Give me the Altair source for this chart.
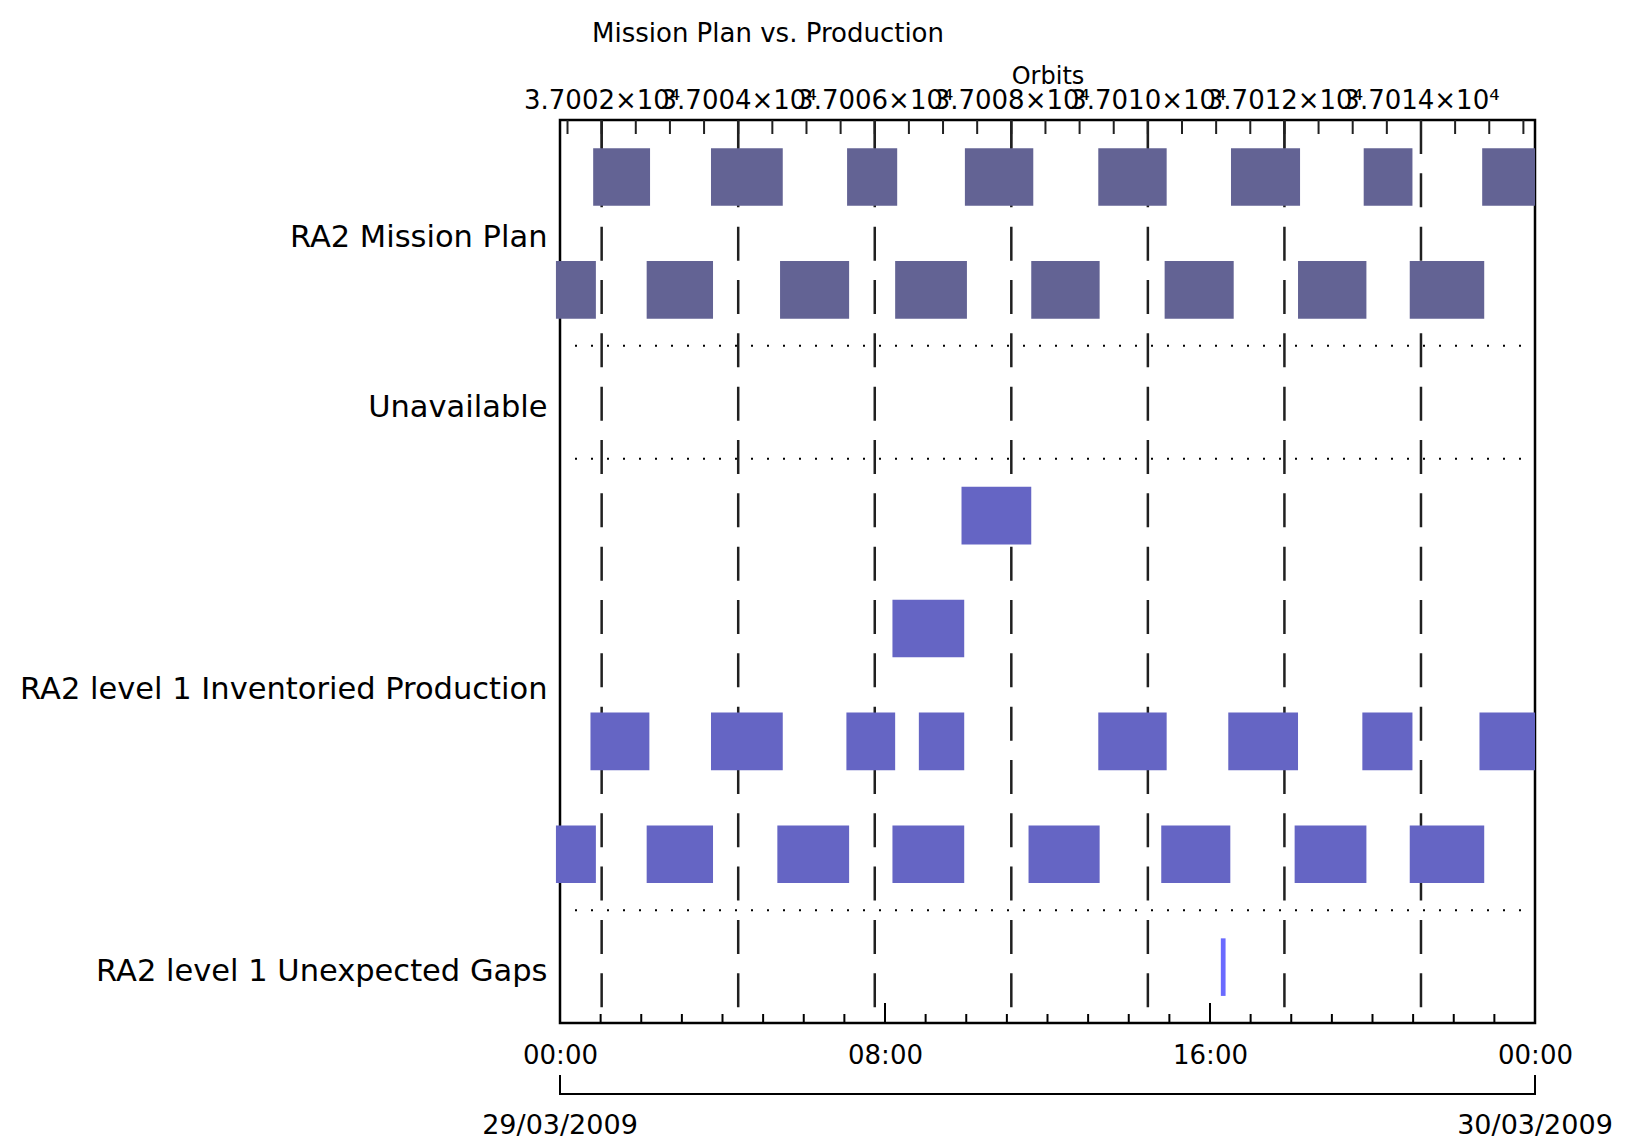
import altair as alt
import pandas as pd

FONT = "DejaVu Sans"
TITLE = "Mission Plan vs. Production"
ORBIT_TITLE = "Orbits"

# Row labels and the slots (sub-rows) each group occupies, top to bottom
ROW_LABELS = ["RA2 Mission Plan", "Unavailable",
              "RA2 level 1 Inventoried Production", "RA2 level 1 Unexpected Gaps"]
ROW_SLOTS = [[0, 1], [2], [3, 4, 5, 6], [7]]
N_SLOTS = 8

# Time axis (hours of 29/03/2009)
TIME_LABEL_HOURS = [0, 8, 16, 24]
DATE_HOURS = [0, 24]
DATE_LABELS = ["29/03/2009", "30/03/2009"]

# Orbit axis
ORBIT_AT_START = 37001.39
ORBIT_AT_END = 37015.67
MAJOR_ORBITS = [37002, 37004, 37006, 37008, 37010, 37012, 37014]

# Mission plan (two sub-rows)
MP_ROW1_START = ["00:49", "03:43", "07:04", "09:58", "13:15", "16:31", "19:47", "22:42"]
MP_ROW1_END   = ["02:13", "05:29", "08:18", "11:39", "14:56", "18:13", "20:59", "24:00"]
MP_ROW2_START = ["-00:06", "02:08", "05:25", "08:15", "11:36", "14:53", "18:10", "20:55"]
MP_ROW2_END   = ["00:53", "03:46", "07:07", "10:01", "13:17", "16:35", "19:51", "22:45"]

# Inventoried production (four sub-rows)
INV_ROW1_START = ["09:53"]
INV_ROW1_END   = ["11:36"]
INV_ROW2_START = ["08:11"]
INV_ROW2_END   = ["09:57"]
INV_ROW3_START = ["00:45", "03:43", "07:03", "08:50", "13:15", "16:27", "19:45", "22:38"]
INV_ROW3_END   = ["02:12", "05:29", "08:15", "09:57", "14:56", "18:10", "20:59", "24:00"]
INV_ROW4_START = ["-00:06", "02:08", "05:21", "08:11", "11:32", "14:48", "18:05", "20:55"]
INV_ROW4_END   = ["00:53", "03:46", "07:07", "09:57", "13:17", "16:30", "19:51", "22:45"]

# Unexpected gaps
GAP_START = ["16:16"]
GAP_END   = ["16:23"]

SERIES = ["plan", "inventoried", "gaps"]
COLORS = ["#636394", "#6565c4", "#6a6aff"]

W, H = 975, 903


def hours(s):
    neg = s.startswith("-")
    hh, mm = s.lstrip("-").split(":")
    v = int(hh) + int(mm) / 60.0
    return -v if neg else v


rows = [
    (MP_ROW1_START, MP_ROW1_END, 0, "plan"),
    (MP_ROW2_START, MP_ROW2_END, 1, "plan"),
    (INV_ROW1_START, INV_ROW1_END, 3, "inventoried"),
    (INV_ROW2_START, INV_ROW2_END, 4, "inventoried"),
    (INV_ROW3_START, INV_ROW3_END, 5, "inventoried"),
    (INV_ROW4_START, INV_ROW4_END, 6, "inventoried"),
    (GAP_START, GAP_END, 7, "gaps"),
]
recs = []
for starts, ends, slot, series in rows:
    for s, e in zip(starts, ends):
        recs.append({"start": hours(s), "end": hours(e), "slot": slot, "series": series})
bars_df = pd.DataFrame(recs)
bars_df["y0"] = bars_df["slot"] + 0.25
bars_df["y1"] = bars_df["slot"] + 0.76

label_pos = [sum(s) / len(s) + 0.5 for s in ROW_SLOTS]
label_expr = " : ".join(
    f"datum.value == {p} ? '{t}'" for p, t in zip(label_pos, ROW_LABELS)
) + " : ''"

sep_df = pd.DataFrame({"slot": [ROW_SLOTS[0][-1] + 1, ROW_SLOTS[1][-1] + 1, ROW_SLOTS[2][-1] + 1]})

hour_ticks = pd.DataFrame({"h": list(range(0, 25))})
hour_major = pd.DataFrame({"h": TIME_LABEL_HOURS})
orbit_major = pd.DataFrame({"orbit": MAJOR_ORBITS})
orbit_minor = pd.DataFrame({"orbit": [37001.5 + 0.5 * k for k in range(29)]})
date_df = pd.DataFrame({"h": DATE_HOURS, "label": DATE_LABELS})
bracket_df = pd.DataFrame({"a": [0], "b": [24]})

xs = alt.Scale(domain=[0, 24], nice=False, zero=False)
ys = alt.Scale(domain=[0, N_SLOTS], nice=False, zero=False, reverse=True)
os_ = alt.Scale(domain=[ORBIT_AT_START, ORBIT_AT_END], nice=False, zero=False)

# ---------- orbit-based layers ----------
top_axis = alt.Axis(
    orient="top", values=MAJOR_ORBITS,
    labelExpr="format(datum.value / 10000, '.4f') + '×10⁴'",
    title=ORBIT_TITLE, titleFont=FONT, titleFontSize=24, titleFontWeight="normal",
    titleColor="black", titlePadding=-1,
    labelFont=FONT, labelFontSize=26, labelColor="black", labelPadding=7,
    labelOverlap=False, labelFlush=False, labelLimit=0,
    ticks=False, domain=False, grid=False,
)
dashed = alt.Chart(orbit_major).mark_rule(
    strokeDash=[34, 19.33], strokeWidth=2.5, color="#202020"
).encode(
    x=alt.X("orbit:Q", scale=os_, axis=top_axis),
    y=alt.value(0), y2=alt.value(H),
)
top_minor = alt.Chart(orbit_minor).mark_rule(strokeWidth=2, color="#202020").encode(
    x=alt.X("orbit:Q", scale=os_, axis=None), y=alt.value(0), y2=alt.value(14),
)
top_major = alt.Chart(orbit_major).mark_rule(strokeWidth=2, color="#202020").encode(
    x=alt.X("orbit:Q", scale=os_, axis=None), y=alt.value(0), y2=alt.value(28),
)

# ---------- time-based layers ----------
bottom_axis = alt.Axis(
    orient="bottom", values=TIME_LABEL_HOURS,
    labelExpr="format(datum.value % 24, '02d') + ':00'",
    title=None, labelFont=FONT, labelFontSize=26, labelColor="black", labelPadding=19,
    labelOverlap=False, labelFlush=False, ticks=False, domain=False, grid=False,
)
left_axis = alt.Axis(
    orient="left", values=label_pos, labelExpr=label_expr, title=None,
    labelFont=FONT, labelFontSize=30.5, labelColor="black", labelPadding=13,
    labelOffset=5, labelOverlap=False, labelFlush=False, labelLimit=0,
    ticks=False, domain=False, grid=False,
)
bars = alt.Chart(bars_df).mark_rect().encode(
    x=alt.X("start:Q", scale=xs, axis=bottom_axis),
    x2="end:Q",
    y=alt.Y("y0:Q", scale=ys, axis=left_axis),
    y2="y1:Q",
    color=alt.Color("series:N", scale=alt.Scale(domain=SERIES, range=COLORS), legend=None),
)
seps = alt.Chart(sep_df).mark_rule(strokeDash=[2, 14], strokeWidth=2, color="black").encode(
    y=alt.Y("slot:Q", scale=ys, axis=None), x=alt.value(15), x2=alt.value(962),
)
bot_minor = alt.Chart(hour_ticks).mark_rule(strokeWidth=2, color="black").encode(
    x=alt.X("h:Q", scale=xs, axis=None), y=alt.value(H), y2=alt.value(H - 9),
)
bot_major = alt.Chart(hour_major).mark_rule(strokeWidth=2, color="black").encode(
    x=alt.X("h:Q", scale=xs, axis=None), y=alt.value(H), y2=alt.value(H - 20),
)
bracket_h = alt.Chart(bracket_df).mark_rule(strokeWidth=2, color="black").encode(
    x=alt.X("a:Q", scale=xs, axis=None), x2="b:Q", y=alt.value(H + 71),
)
bracket_v = alt.Chart(date_df).mark_rule(strokeWidth=2, color="black").encode(
    x=alt.X("h:Q", scale=xs, axis=None), y=alt.value(H + 52), y2=alt.value(H + 72),
)
dates = alt.Chart(date_df).mark_text(
    font=FONT, fontSize=27, color="black", baseline="alphabetic", align="center"
).encode(
    x=alt.X("h:Q", scale=xs, axis=None), y=alt.value(H + 111), text="label:N",
)

chart = alt.layer(
    dashed, top_minor, top_major,
    bars, seps, bot_minor, bot_major, bracket_h, bracket_v, dates,
).resolve_scale(x="independent", y="independent").properties(
    width=W, height=H,
    title=alt.Title(TITLE, anchor="start", frame="group", dx=32, offset=17,
                    font=FONT, fontSize=26, fontWeight="normal", color="black"),
    padding={"left": 552, "top": 112, "right": 85, "bottom": 117},
    autosize=alt.AutoSizeParams(type="none"),
    background="white",
).configure_view(stroke="black", strokeWidth=2.5)

chart.save("out.html", embed_options={"renderer": "svg", "actions": False})
